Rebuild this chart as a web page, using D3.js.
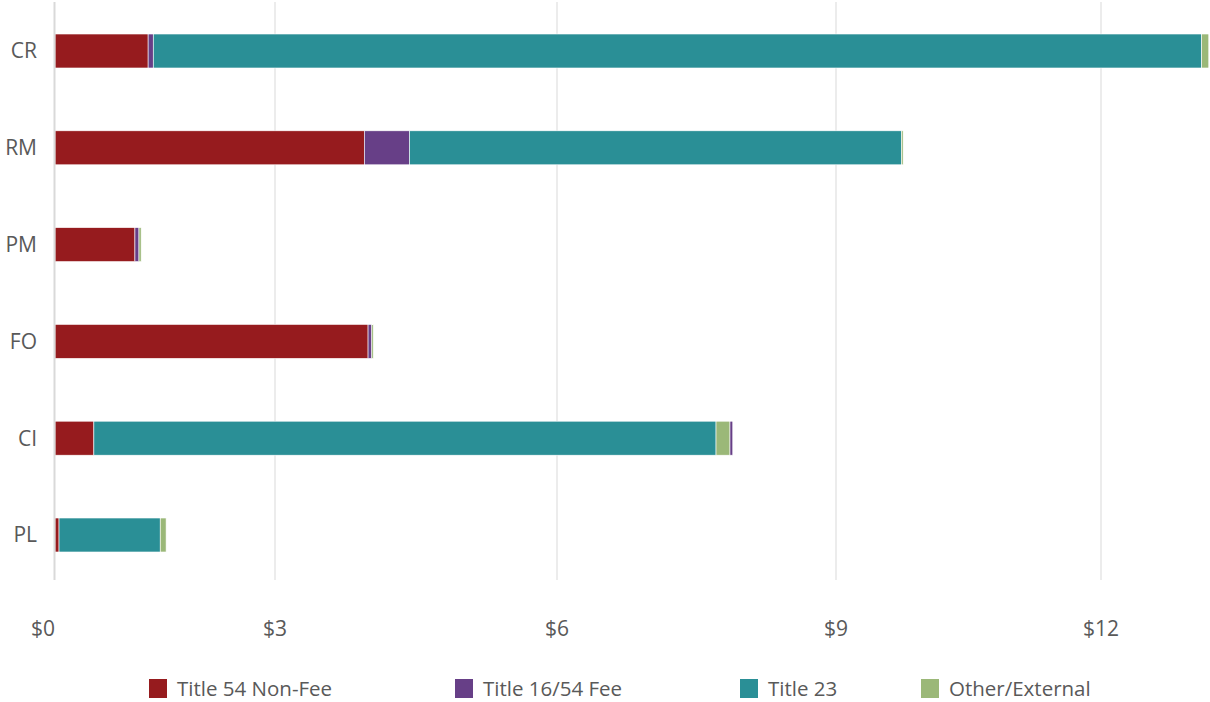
<!DOCTYPE html>
<html>
<head>
<meta charset="utf-8">
<script src="https://cdn.jsdelivr.net/npm/d3@7/dist/d3.min.js"></script>
<style>
  body { margin: 0; background: #fff; }
  text { font-family: "Open Sans", sans-serif; fill: #595959; }
</style>
</head>
<body>
<svg id="chart"></svg>
<script>
var categories = ['CR', 'RM', 'PM', 'FO', 'CI', 'PL'];
var seriesNames = ['Title 54 Non-Fee', 'Title 16/54 Fee', 'Title 23', 'Other/External'];
var seriesColors = ['#961b1e', '#673f87', '#2a8f96', '#9bb878'];

// values in $ (millions), one array per series, in category order
var title54NonFee = [1.27, 3.95, 1.09, 3.99, 0.53, 0.055];
var title1654Fee = [0.07, 0.48, 0.055, 0.04, 0.03, 0.0];
var title23 = [11.80, 5.31, 0.0, 0.0, 7.18, 1.38];
var otherExternal = [0.08, 0.02, 0.03, 0.015, 0.15, 0.08];

var tickValues = [0, 3, 6, 9, 12];
var tickLabels = ['$0', '$3', '$6', '$9', '$12'];

// CI draws its fee segment last
var stackOrder = {
  'CI': [0, 2, 3, 1]
};

var width = 1210;
var height = 702;

var svg = d3.select('#chart')
  .attr('width', width)
  .attr('height', height);

// x scale follows the gridlines of the original
var xScale = d3.scaleLinear()
  .domain(tickValues)
  .range([55, 275, 557, 836, 1101]);

var yScale = d3.scaleBand()
  .domain(categories)
  .range([2.6, 583.4])
  .paddingInner(0.649)
  .paddingOuter(0.3245);

var allSeries = [title54NonFee, title1654Fee, title23, otherExternal];

// gridlines
svg.append('g')
  .selectAll('line')
  .data(tickValues.slice(1))
  .enter().append('line')
    .attr('x1', function(d) { return xScale(d); })
    .attr('x2', function(d) { return xScale(d); })
    .attr('y1', 2)
    .attr('y2', 580)
    .attr('stroke', '#d9d9d9')
    .attr('stroke-width', 1);

// bars
var segments = [];
for (var c = 0; c < categories.length; c++) {
  var cat = categories[c];
  var order = stackOrder[cat] || [0, 1, 2, 3];
  var start = 0;
  for (var k = 0; k < order.length; k++) {
    var s = order[k];
    var v = allSeries[s][c];
    if (v > 0) {
      segments.push({ cat: cat, series: s, x0: start, x1: start + v });
    }
    start += v;
  }
}

svg.append('g')
  .selectAll('rect')
  .data(segments)
  .enter().append('rect')
    .attr('x', function(d) { return xScale(d.x0); })
    .attr('y', function(d) { return yScale(d.cat); })
    .attr('width', function(d) { return Math.max(xScale(d.x1) - xScale(d.x0), 1.5); })
    .attr('height', yScale.bandwidth())
    .attr('fill', function(d) { return seriesColors[d.series]; })
    .attr('stroke', '#fff')
    .attr('stroke-width', 0.6);

// vertical axis line
svg.append('line')
  .attr('x1', 54.5).attr('x2', 54.5)
  .attr('y1', 2).attr('y2', 580)
  .attr('stroke', '#d9d9d9')
  .attr('stroke-width', 2);

// category labels
svg.append('g')
  .selectAll('text')
  .data(categories)
  .enter().append('text')
    .attr('x', 37)
    .attr('y', function(d) { return yScale(d) + yScale.bandwidth() / 2; })
    .attr('dy', '0.35em')
    .attr('text-anchor', 'end')
    .style('font-size', '21px')
    .text(function(d) { return d; });

// tick labels
svg.append('g')
  .selectAll('text')
  .data(tickValues)
  .enter().append('text')
    .attr('x', function(d, i) { return xScale(d) - (i == 0 ? 12 : 0); })
    .attr('y', 629)
    .attr('dy', '0.35em')
    .attr('text-anchor', 'middle')
    .style('font-size', '21px')
    .text(function(d, i) { return tickLabels[i]; });

// legend
var legendX = [149, 455, 740, 921];
var legend = svg.append('g')
  .selectAll('g')
  .data(seriesNames)
  .enter().append('g')
    .attr('transform', function(d, i) { return 'translate(' + legendX[i] + ',679)'; });

legend.append('rect')
  .attr('width', 18)
  .attr('height', 19)
  .attr('fill', function(d, i) { return seriesColors[i]; });

legend.append('text')
  .attr('x', 28)
  .attr('y', 9.5)
  .attr('dy', '0.35em')
  .style('font-size', '20.5px')
  .text(function(d) { return d; });
</script>
</body>
</html>
